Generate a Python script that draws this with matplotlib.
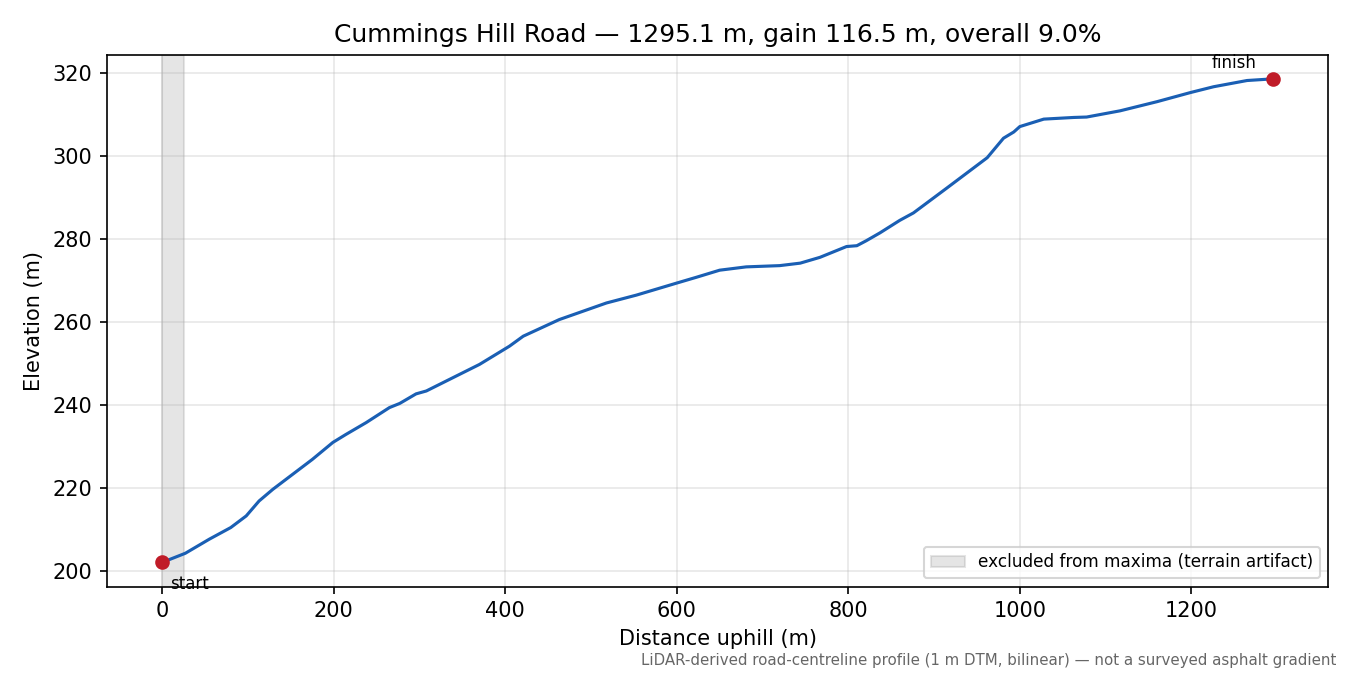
import matplotlib
matplotlib.use("Agg")
import matplotlib.pyplot as plt

distance = [0, 27, 55, 80, 98, 113, 129, 152, 175, 199, 214, 238, 265, 277, 296, 308,
            339, 370, 405, 421, 463, 518, 553, 600, 623, 650, 681, 720, 744, 767, 798,
            810, 821, 837, 860, 876, 915, 962, 981, 993, 1000, 1028, 1063, 1078, 1117,
            1160, 1199, 1226, 1265, 1295.1]
elevation = [202.1, 204.3, 207.7, 210.5, 213.3, 216.9, 219.7, 223.3, 226.9, 231.0, 232.9,
             235.8, 239.4, 240.4, 242.7, 243.4, 246.6, 249.8, 254.2, 256.6, 260.6, 264.6,
             266.5, 269.4, 270.8, 272.5, 273.3, 273.6, 274.2, 275.6, 278.2, 278.4, 279.6,
             281.5, 284.5, 286.3, 292.3, 299.6, 304.3, 305.8, 307.1, 308.9, 309.3, 309.4,
             310.9, 313.1, 315.3, 316.7, 318.2, 318.6]
excluded_span = [0, 25]
title = "Cummings Hill Road \u2014 1295.1 m, gain 116.5 m, overall 9.0%"
footnote = "LiDAR-derived road-centreline profile (1 m DTM, bilinear) \u2014 not a surveyed asphalt gradient"

fig, ax = plt.subplots(figsize=(9, 4.5), dpi=150)
fig.subplots_adjust(left=0.079, right=0.984, top=0.919, bottom=0.131)

ax.axvspan(excluded_span[0], excluded_span[1], color="0.5", alpha=0.2,
           label="excluded from maxima (terrain artifact)")
ax.plot(distance, elevation, color="#1a5fb4", lw=1.5)
ax.plot([distance[0], distance[-1]], [elevation[0], elevation[-1]], "o",
        color="#c01c28", ms=6, zorder=5)
ax.annotate("start", (distance[0], elevation[0]), xytext=(4, -6),
            textcoords="offset points", ha="left", va="top", fontsize=8)
ax.annotate("finish", (distance[-1], elevation[-1]), xytext=(-8, 3.5),
            textcoords="offset points", ha="right", va="bottom", fontsize=8)

ax.grid(alpha=0.3)
ax.set_xlabel("Distance uphill (m)")
ax.set_ylabel("Elevation (m)")
ax.set_title(title)
ax.legend(loc="lower right", fontsize=8.1)
fig.text(0.99, 0.01, footnote, ha="right", va="bottom", fontsize=7.2, color="0.4")

fig.savefig("out.png", dpi=150)
